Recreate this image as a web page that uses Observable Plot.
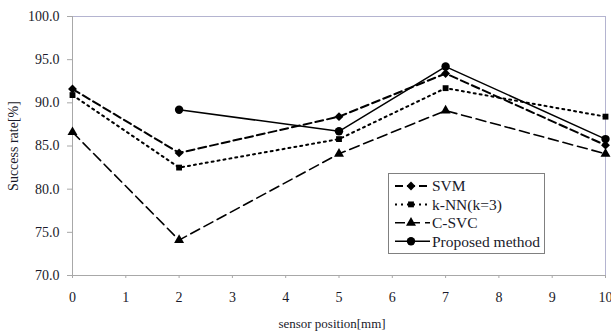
<!DOCTYPE html>
<html>
<head>
<meta charset="utf-8">
<script src="https://cdn.jsdelivr.net/npm/d3@7"></script>
<script src="https://cdn.jsdelivr.net/npm/@observablehq/plot@0.6"></script>
<style>
  html, body { margin: 0; padding: 0; background: #fff; }
  #chart { width: 611px; height: 331px; }
</style>
</head>
<body>
<div id="chart"></div>
<script>
const positions = [0, 2, 5, 7, 10];
const svm = [91.6, 84.2, 88.4, 93.4, 85.1];
const knn = [90.9, 82.5, 85.8, 91.7, 88.4];
const csvc = [86.6, 74.1, 84.1, 89.1, 84.1];
const proposed = [null, 89.2, 86.7, 94.2, 85.8];
const seriesNames = ["SVM", "k-NN(k=3)", "C-SVC", "Proposed method"];
const xTicks = [0, 1, 2, 3, 4, 5, 6, 7, 8, 9, 10];
const yTicks = [70, 75, 80, 85, 90, 95, 100];

const styles = [
  {dash: "8,4", width: 2, symbol: "diamond2", r: 4.0},
  {dash: "2,4", width: 2, symbol: "square", r: 3.3},
  {dash: "10,5", width: 1.6, symbol: "triangle", r: 3.7},
  {dash: null, width: 1.5, symbol: "circle", r: 4.2}
];
const values = [svm, knn, csvc, proposed];

const rows = [];
values.forEach((vals, s) => {
  vals.forEach((v, i) => {
    if (v != null) rows.push({series: seriesNames[s], x: positions[i], y: v});
  });
});

const font = "'Liberation Serif', 'Times New Roman', serif";
const seriesMarks = [];
seriesNames.forEach((name, s) => {
  const d = rows.filter(r => r.series === name);
  const st = styles[s];
  seriesMarks.push(Plot.line(d, {x: "x", y: "y", stroke: "#000", strokeWidth: st.width, strokeDasharray: st.dash}));
  seriesMarks.push(Plot.dot(d, {x: "x", y: "y", symbol: () => st.symbol, fill: "#000", stroke: "none", r: st.r}));
});

const plot = Plot.plot({
  width: 611,
  height: 331,
  marginLeft: 72,
  marginRight: 6,
  marginTop: 16,
  marginBottom: 56,
  style: {fontFamily: font, fontSize: "14px", color: "#1a1a2a", background: "#fff"},
  x: {domain: [0, 10]},
  y: {domain: [70, 100]},
  marks: [
    Plot.ruleY([100], {stroke: "#b4b4d0", strokeWidth: 1}),
    Plot.ruleX([10], {stroke: "#b4b4d0", strokeWidth: 1}),
    Plot.ruleX([0], {stroke: "#a8a8a8", strokeWidth: 1}),
    Plot.ruleY([70], {stroke: "#a8a8a8", strokeWidth: 1}),
    Plot.axisY({ticks: yTicks, tickFormat: d3.format(".1f"), tickSize: 5, tickPadding: 8, stroke: "#a8a8a8",
      fontSize: 14, label: "Success rate[%]", labelAnchor: "center", labelArrow: "none", labelOffset: 64}),
    Plot.axisX({ticks: xTicks, tickFormat: d3.format("d"), tickSize: 3, tickPadding: 14, stroke: "#a8a8a8",
      fontSize: 14, label: "sensor position[mm]", labelAnchor: "center", labelArrow: "none", labelOffset: 52}),
    ...seriesMarks
  ]
});
document.getElementById("chart").appendChild(plot);

// shift x-axis title slightly left and size it like the reference
d3.select(plot).selectAll("g[aria-label='x-axis label'] text").attr("dx", -7).attr("font-size", 13);

// legend
const svg = d3.select(plot);
const lg = svg.append("g").attr("font-family", font).attr("font-size", 15.5).attr("fill", "#1a1a2a")
  .attr("text-anchor", "start");
lg.append("rect").attr("x", 388.5).attr("y", 173.5).attr("width", 156).attr("height", 80)
  .attr("fill", "#fff").attr("stroke", "#808080").attr("stroke-width", 1);
seriesNames.forEach((name, s) => {
  const yy = 186 + s * 18.4;
  const st = styles[s];
  lg.append("line").attr("x1", 395).attr("x2", 430).attr("y1", yy).attr("y2", yy)
    .attr("stroke", "#000").attr("stroke-width", st.width).attr("stroke-dasharray", st.dash);
  const sym = {diamond2: d3.symbolDiamond2, square: d3.symbolSquare, triangle: d3.symbolTriangle, circle: d3.symbolCircle}[st.symbol];
  lg.append("path").attr("transform", `translate(411,${yy})`)
    .attr("d", d3.symbol(sym, st.r * st.r * Math.PI)()).attr("fill", "#000");
  lg.append("text").attr("x", 432).attr("y", yy).attr("dy", "0.35em").attr("text-anchor", "start").text(name);
});
</script>
</body>
</html>
